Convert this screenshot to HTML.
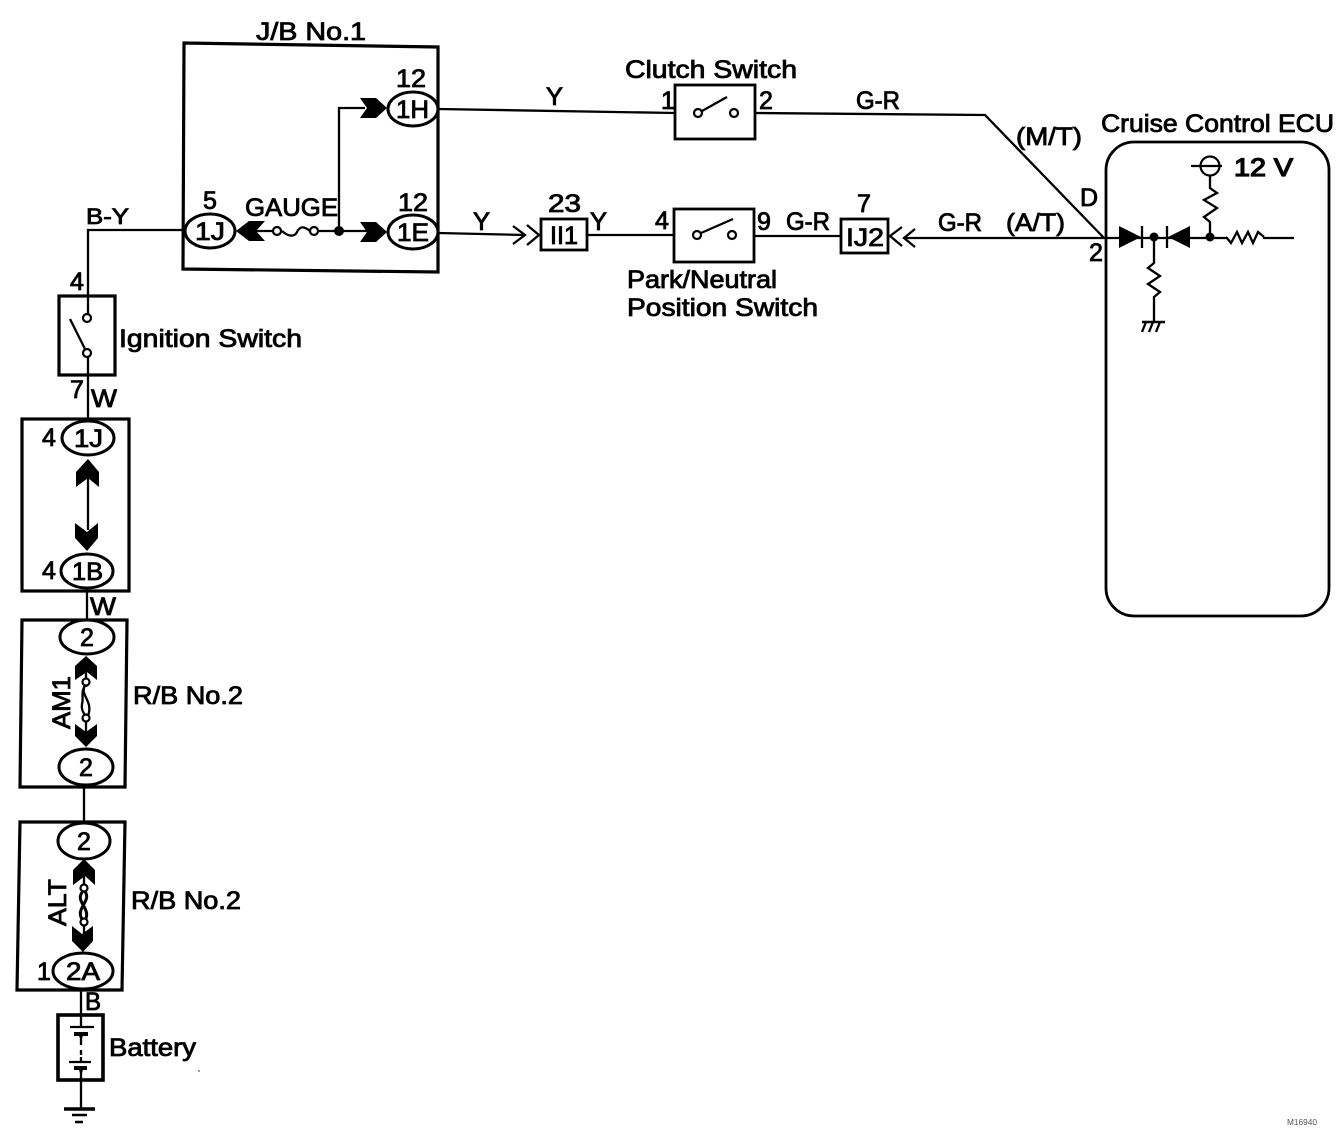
<!DOCTYPE html>
<html><head><meta charset="utf-8"><style>
html,body{margin:0;padding:0;background:#fff}
svg{display:block}
text{font-family:"Liberation Sans",sans-serif;font-size:25px;fill:#000;stroke:#000;stroke-width:.85}
.l{fill:none;stroke:#000;stroke-width:2.3}
.b{fill:none;stroke:#000;stroke-width:3.2}
.e{fill:#fff;stroke:#000;stroke-width:3}
.c{fill:#fff;stroke:#000;stroke-width:2.2}
.k{fill:#000}
</style></head><body>
<svg width="1344" height="1132" viewBox="0 0 1344 1132" xmlns="http://www.w3.org/2000/svg">
<!-- wires -->
<path class="l" d="M184,230H88V420M87,591V621M84,787V822M81,990V1015M81,1080V1109"/>
<path class="l" d="M438,109L675,113M755,113L985,115L1104,238M438,233L525,235M587,235H674M754,236H841M905,238H1294" />
<path class="l" d="M339,231V108H365M240,231H370"/>
<path class="l" d="M88,470V530M86,660V745M84,865V935" />
<!-- J/B box -->
<path class="b" d="M184,43L438,47V272L183,269Z"/>
<path class="k" d="M360,98H376L387,108L376,118H360L367,108Z"/>
<path class="k" d="M360,222H376L387,232L376,242H360L367,232Z"/>
<path class="k" d="M236,231L249,221H265L256,231L265,241H249Z"/>
<ellipse class="e" cx="413" cy="109" rx="25" ry="17"/>
<ellipse class="e" cx="413" cy="232" rx="25" ry="17"/>
<ellipse class="e" cx="210" cy="231" rx="25" ry="17"/>
<rect x="282" y="225" width="28" height="12" fill="#fff"/>
<path class="l" d="M282,231C290,238 295,236 297,232C300,226 304,226 310,231"/>
<circle class="c" cx="277" cy="231" r="4"/><circle class="c" cx="314" cy="231" r="4"/>
<circle class="k" cx="339" cy="231" r="5"/>
<!-- Ignition switch -->
<rect class="b" x="59" y="296" width="56" height="79"/>
<rect x="80" y="322" width="14" height="27" fill="#fff"/>
<path class="l" d="M70,319L87,353"/>
<circle class="c" cx="87" cy="318" r="4"/><circle class="c" cx="87" cy="353" r="4"/>
<!-- 1J/1B box -->
<rect class="b" x="22" y="419" width="107" height="172"/>
<ellipse class="e" cx="88" cy="438" rx="26" ry="17"/>
<ellipse class="e" cx="87" cy="571" rx="26" ry="17"/>
<path class="k" d="M88,459L99,472V487L88,478L76,487V472Z"/>
<path class="k" d="M87,551L75,538V523L87,532L98,523V538Z"/>
<!-- AM1 box -->
<path class="b" d="M22,620H127L125,787H20Z"/>
<ellipse class="e" cx="87" cy="637" rx="27" ry="17"/>
<ellipse class="e" cx="86" cy="767" rx="27" ry="18"/>
<path class="k" d="M86,656L97,666V680L87,672L75,680V666Z"/>
<path class="k" d="M86,747L75,736V724L86,732L97,724V736Z"/>
<rect x="78" y="687" width="16" height="27" fill="#fff"/>
<path class="l" d="M86,684C78,695 94,700 88,716M86,684C80,692 84,698 82,704C81,710 84,714 86,716"/>
<circle class="c" cx="86" cy="682" r="3.5"/><circle class="c" cx="86" cy="718" r="3.5"/>
<!-- ALT box -->
<path class="b" d="M20,822H125L122,990H17Z"/>
<ellipse class="e" cx="84" cy="841" rx="26" ry="18"/>
<ellipse class="e" cx="83" cy="971" rx="30" ry="18"/>
<path class="k" d="M84,859L95,870V885L85,876L73,885V870Z"/>
<path class="k" d="M83,952L72,941V926L82,934L93,926V941Z"/>
<rect x="76" y="892" width="16" height="27" fill="#fff"/>
<path stroke="#000" stroke-width="3" fill="none" d="M84,890C72,902 94,908 84,922M84,890C94,902 72,908 84,922"/>
<circle class="c" cx="84" cy="888" r="3.5"/><circle class="c" cx="84" cy="922" r="3.5"/>
<!-- Battery -->
<rect class="b" x="58" y="1015" width="45" height="65" style="stroke-width:3.6"/>
<rect x="76" y="1028" width="10" height="50" fill="#fff"/>
<path class="l" d="M70,1027H94M69,1062H91M81,1015V1027M81,1036V1045M81,1050V1055M81,1057V1062M81,1070V1080"/>
<path class="k" d="M74,1032H88V1036H83L81,1040L79,1036H74Z"/>
<path class="k" d="M74,1066H87V1070H83L81,1076L79,1070H74Z"/>
<path stroke="#000" stroke-width="3.4" d="M64,1109H95"/>
<path stroke="#000" stroke-width="2.4" d="M72,1115H87M75,1122H83"/>
<circle class="k" cx="199" cy="1071" r=".7"/>
<!-- Clutch switch -->
<rect class="b" x="675" y="85" width="80" height="54" style="stroke-width:2.8"/>
<rect x="701" y="108" width="30" height="10" fill="#fff"/>
<path class="l" d="M702,111L727,97"/>
<circle class="c" cx="698" cy="113" r="4"/><circle class="c" cx="734" cy="113" r="4"/>
<!-- Park switch -->
<rect class="b" x="674" y="209" width="80" height="53" style="stroke-width:2.8"/>
<rect x="702" y="229" width="26" height="12" fill="#fff"/>
<path class="l" d="M701,233L733,219"/>
<circle class="c" cx="697" cy="235" r="4"/><circle class="c" cx="732" cy="235" r="4"/>
<!-- connectors -->
<rect class="b" x="541" y="219" width="46" height="31" style="stroke-width:2.8"/>
<rect class="b" x="841" y="219" width="47" height="34" style="stroke-width:2.8"/>
<path class="l" d="M513,226L525,235L513,244M527,225L539,235L527,245"/>
<path class="l" d="M902,227L890,236L902,246M915,229L904,238L915,247"/>
<!-- ECU -->
<rect x="1106" y="142" width="223" height="474" rx="28" ry="28" fill="none" stroke="#000" stroke-width="2.8"/>
<path class="k" d="M1119,226V248L1141,237Z"/><path class="l" d="M1142,226V248"/>
<path class="k" d="M1190,226V248L1168,237Z"/><path class="l" d="M1167,226V248"/>
<rect x="1226" y="232" width="37" height="10" fill="#fff"/>
<path class="l" d="M1226,237L1231,243L1237,232L1242,243L1248,232L1253,243L1258,232L1264,237"/>
<circle class="k" cx="1154" cy="237" r="4.5"/><circle class="k" cx="1210" cy="237" r="4.5"/>
<path class="l" d="M1210,237V222L1204,217L1217,208L1204,200L1217,193L1210,188V175"/>
<circle class="c" cx="1210" cy="166" r="9.5"/>
<path class="l" d="M1191,166H1222"/>
<path class="l" d="M1154,237V263L1148,268L1160,276L1148,284L1160,292L1154,297V322"/>
<path stroke="#000" stroke-width="2.6" d="M1142,322H1165"/>
<path class="l" d="M1146,322L1142,332M1153,322L1149,332M1160,322L1156,332"/>
<!-- labels -->
<text x="256" y="40" textLength="110" lengthAdjust="spacingAndGlyphs">J/B No.1</text>
<text x="396" y="87" textLength="30" lengthAdjust="spacingAndGlyphs">12</text>
<text x="398" y="211" textLength="30" lengthAdjust="spacingAndGlyphs">12</text>
<text x="203" y="209">5</text>
<text x="245" y="216" textLength="93" lengthAdjust="spacingAndGlyphs">GAUGE</text>
<text x="396" y="118" textLength="33" lengthAdjust="spacingAndGlyphs">1H</text>
<text x="397" y="241" textLength="32" lengthAdjust="spacingAndGlyphs">1E</text>
<text x="195" y="240" textLength="30" lengthAdjust="spacingAndGlyphs">1J</text>
<text x="86" y="224" textLength="43" lengthAdjust="spacingAndGlyphs" style="font-size:22px">B-Y</text>
<text x="70" y="290">4</text>
<text x="119" y="347" textLength="183" lengthAdjust="spacingAndGlyphs">Ignition Switch</text>
<text x="70" y="398">7</text>
<text x="91" y="407" textLength="26" lengthAdjust="spacingAndGlyphs">W</text>
<text x="42" y="446">4</text>
<text x="74" y="447" textLength="29" lengthAdjust="spacingAndGlyphs">1J</text>
<text x="42" y="579">4</text>
<text x="72" y="580" textLength="31" lengthAdjust="spacingAndGlyphs">1B</text>
<text x="90" y="615" textLength="26" lengthAdjust="spacingAndGlyphs">W</text>
<text x="80" y="646">2</text>
<text x="79" y="776">2</text>
<text x="133" y="704" textLength="110" lengthAdjust="spacingAndGlyphs">R/B No.2</text>
<text transform="translate(70,729) rotate(-90)" textLength="53" lengthAdjust="spacingAndGlyphs">AM1</text>
<text x="77" y="850">2</text>
<text x="131" y="909" textLength="110" lengthAdjust="spacingAndGlyphs">R/B No.2</text>
<text transform="translate(66,926) rotate(-90)" textLength="47" lengthAdjust="spacingAndGlyphs">ALT</text>
<text x="37" y="980">1</text>
<text x="66" y="980" textLength="34" lengthAdjust="spacingAndGlyphs">2A</text>
<text x="85" y="1010" textLength="16" lengthAdjust="spacingAndGlyphs">B</text>
<text x="109" y="1056" textLength="87" lengthAdjust="spacingAndGlyphs">Battery</text>
<text x="546" y="105" textLength="17" lengthAdjust="spacingAndGlyphs">Y</text>
<text x="625" y="78" textLength="172" lengthAdjust="spacingAndGlyphs">Clutch Switch</text>
<text x="661" y="109">1</text>
<text x="759" y="109">2</text>
<text x="856" y="109" textLength="44" lengthAdjust="spacingAndGlyphs">G-R</text>
<text x="1016" y="145" textLength="66" lengthAdjust="spacingAndGlyphs">(M/T)</text>
<text x="1080" y="206">D</text>
<text x="1089" y="261">2</text>
<text x="1101" y="132" textLength="233" lengthAdjust="spacingAndGlyphs">Cruise Control ECU</text>
<text x="1234" y="176" textLength="59" lengthAdjust="spacingAndGlyphs" style="stroke-width:1.3">12 V</text>
<text x="473" y="230" textLength="17" lengthAdjust="spacingAndGlyphs">Y</text>
<text x="548" y="212" textLength="33" lengthAdjust="spacingAndGlyphs">23</text>
<text x="590" y="230" textLength="17" lengthAdjust="spacingAndGlyphs">Y</text>
<text x="550" y="244" textLength="28" lengthAdjust="spacingAndGlyphs">II1</text>
<text x="655" y="229">4</text>
<text x="757" y="230">9</text>
<text x="786" y="230" textLength="44" lengthAdjust="spacingAndGlyphs">G-R</text>
<text x="857" y="212">7</text>
<text x="846" y="246" textLength="38" lengthAdjust="spacingAndGlyphs">IJ2</text>
<text x="938" y="231" textLength="44" lengthAdjust="spacingAndGlyphs">G-R</text>
<text x="1006" y="231" textLength="59" lengthAdjust="spacingAndGlyphs">(A/T)</text>
<text x="627" y="288" textLength="150" lengthAdjust="spacingAndGlyphs">Park/Neutral</text>
<text x="627" y="316" textLength="191" lengthAdjust="spacingAndGlyphs">Position Switch</text>
<text x="1287" y="1125" textLength="30" lengthAdjust="spacingAndGlyphs" style="font-size:8px;stroke-width:0;fill:#555">M16940</text>
</svg>
</body></html>
